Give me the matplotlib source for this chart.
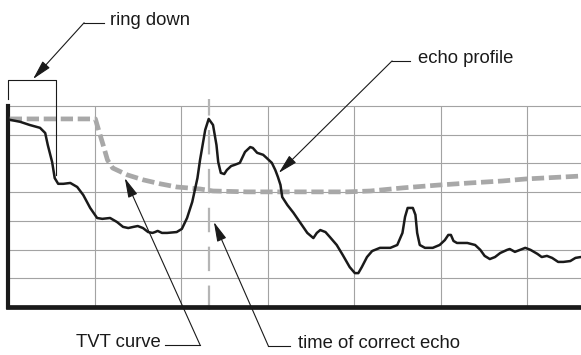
import matplotlib
matplotlib.use("Agg")
import matplotlib.pyplot as plt

plt.rcParams['font.family'] = ['Liberation Sans', 'DejaVu Sans']

# echo profile (time in grid units, amplitude in grid units)
echo_t = [0.02, 0.14, 0.25, 0.37, 0.43, 0.46, 0.51, 0.54, 0.58, 0.64, 0.72, 0.80,
          0.87, 0.95, 1.03, 1.09, 1.18, 1.26, 1.33, 1.39, 1.45, 1.50, 1.56, 1.62,
          1.67, 1.70, 1.73, 1.78, 1.84, 1.95, 2.01, 2.07, 2.13, 2.19, 2.22, 2.28,
          2.32, 2.37, 2.41, 2.43, 2.46, 2.50, 2.53, 2.58, 2.62, 2.68, 2.74, 2.80,
          2.83, 2.88, 2.95, 2.99, 3.05, 3.09, 3.12, 3.15, 3.17, 3.23, 3.30, 3.38,
          3.46, 3.53, 3.57, 3.61, 3.67, 3.72, 3.80, 3.87, 3.95, 4.01, 4.05, 4.09,
          4.15, 4.21, 4.30, 4.42, 4.50, 4.56, 4.59, 4.62, 4.68, 4.71, 4.73, 4.76,
          4.82, 4.91, 4.99, 5.05, 5.09, 5.12, 5.15, 5.19, 5.31, 5.40, 5.46, 5.51,
          5.57, 5.63, 5.69, 5.77, 5.80, 5.86, 5.92, 5.98, 6.04, 6.12, 6.17, 6.23,
          6.29, 6.36, 6.42, 6.50, 6.56, 6.62]
echo_a = [6.52, 6.45, 6.34, 6.24, 6.06, 5.64, 5.05, 4.49, 4.29, 4.29, 4.32, 4.18,
          3.90, 3.45, 3.10, 3.07, 3.10, 2.96, 2.79, 2.75, 2.79, 2.82, 2.75, 2.61,
          2.58, 2.61, 2.65, 2.58, 2.58, 2.61, 2.72, 3.10, 3.66, 4.49, 5.12, 6.17,
          6.55, 6.34, 5.64, 5.05, 4.67, 4.63, 4.77, 4.91, 4.95, 5.02, 5.40, 5.57,
          5.54, 5.37, 5.30, 5.19, 5.02, 4.77, 4.53, 4.25, 3.83, 3.55, 3.28, 2.93,
          2.58, 2.40, 2.58, 2.68, 2.61, 2.44, 2.16, 1.81, 1.39, 1.18, 1.18, 1.39,
          1.74, 1.95, 2.06, 2.06, 2.16, 2.58, 3.14, 3.45, 3.45, 3.21, 2.58, 2.16,
          2.06, 2.06, 2.16, 2.33, 2.51, 2.51, 2.30, 2.23, 2.23, 2.16, 1.99, 1.78,
          1.67, 1.74, 1.88, 1.99, 2.02, 1.92, 1.99, 2.06, 1.99, 1.85, 1.74, 1.78,
          1.71, 1.57, 1.57, 1.60, 1.71, 1.74]

# TVT curve
tvt_t = [0.02, 1.01, 1.04, 1.10, 1.15, 1.21, 1.38, 1.56, 1.76, 1.95, 2.22, 2.37,
         2.76, 3.15, 3.53, 3.92, 4.19, 4.57, 4.99, 5.34, 5.72, 5.99, 6.62]
tvt_a = [6.55, 6.55, 6.24, 5.64, 5.12, 4.84, 4.60, 4.43, 4.29, 4.18, 4.11, 4.04,
         4.01, 4.01, 4.01, 4.01, 4.04, 4.15, 4.25, 4.32, 4.39, 4.46, 4.56]

echo_time = 2.32      # time of correct echo
ring_down_end = 0.555

fig = plt.figure(figsize=(5.81, 3.55), dpi=100)
ax = fig.add_axes([8 / 581, 48 / 355, 573 / 581, 201 / 355])
ax.set_xlim(0, 6.624)
ax.set_ylim(0, 7)

grid_c = '#a3a3a3'
for gx in range(1, 7):
    ax.plot([gx, gx], [0, 7], color=grid_c, lw=0.8, zorder=1)
for gy in range(1, 8):
    ax.plot([0, 6.624], [gy, gy], color=grid_c, lw=0.8, zorder=1, clip_on=False)

ax.plot([echo_time, echo_time], [-0.12, 7.24], color='#b5b5b5', lw=1.6,
        dashes=(11, 6.5), zorder=2, clip_on=False)
ax.plot(tvt_t, tvt_a, color='#a8a8a8', lw=3.4, dashes=(2.6, 1.0), zorder=3)
ax.plot(echo_t, echo_a, color='#1a1a1a', lw=1.8, zorder=4,
        solid_joinstyle='round', solid_capstyle='round')

for s in ['top', 'right']:
    ax.spines[s].set_visible(False)
ax.spines['left'].set_linewidth(3.0)
ax.spines['bottom'].set_linewidth(3.4)
ax.spines['left'].set_color('#1a1a1a')
ax.spines['bottom'].set_color('#1a1a1a')
ax.set_xticks([])
ax.set_yticks([])

# ring down bracket
ax.plot([0, 0, ring_down_end, ring_down_end], [7.25, 7.91, 7.91, 4.60],
        color='#1a1a1a', lw=0.8, clip_on=False, zorder=5)

arrow = dict(arrowstyle='-|>,head_length=1.2,head_width=0.3', color='#1a1a1a',
             lw=0.8, shrinkA=0, shrinkB=0)
labels = [
    ('ring down', (0.29, 7.94), (0.88, 9.90), 1.11, 1.18, 'left'),
    ('echo profile', (3.13, 4.67), (4.44, 8.57), 4.65, 4.74, 'left'),
    ('TVT curve', (1.35, 4.49), (2.22, -1.32), 1.82, 1.77, 'right'),
    ('time of correct echo', (2.38, 2.96), (3.01, -1.36), 3.26, 3.35, 'left'),
]
for txt, tip, elbow, hend, tx, ha in labels:
    ax.annotate('', xy=tip, xytext=elbow, arrowprops=arrow, annotation_clip=False)
    ax.plot([elbow[0], hend], [elbow[1], elbow[1]], color='#1a1a1a', lw=0.8,
            clip_on=False)
    ax.text(tx, elbow[1] + 0.08, txt, ha=ha, va='center', fontsize=13.3,
            color='#1a1a1a', clip_on=False)

fig.savefig('out.png', dpi=100)
